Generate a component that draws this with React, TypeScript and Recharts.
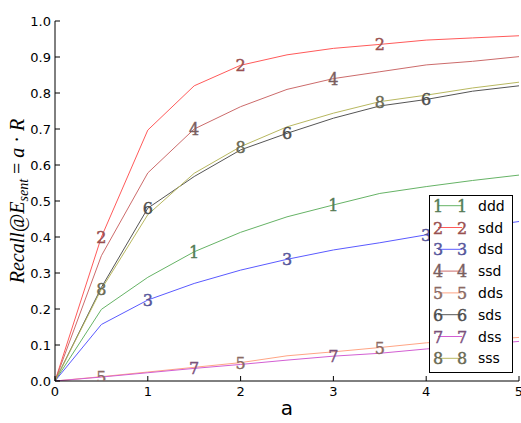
import React from 'react';
import { LineChart, Line, XAxis, YAxis, Label } from 'recharts';

const aValues = [0, 0.5, 1, 1.5, 2, 2.5, 3, 3.5, 4, 4.5, 5];
const ddd = [0, 0.199, 0.288, 0.359, 0.413, 0.456, 0.489, 0.521, 0.54, 0.557, 0.572];
const sdd = [0, 0.4, 0.697, 0.82, 0.877, 0.906, 0.924, 0.935, 0.947, 0.953, 0.959];
const dsd = [0, 0.157, 0.225, 0.271, 0.308, 0.338, 0.364, 0.384, 0.406, 0.425, 0.443];
const ssd = [0, 0.348, 0.578, 0.7, 0.762, 0.81, 0.84, 0.859, 0.878, 0.888, 0.901];
const dds = [0, 0.012, 0.025, 0.038, 0.051, 0.07, 0.081, 0.093, 0.106, 0.113, 0.121];
const sds = [0, 0.26, 0.48, 0.568, 0.642, 0.688, 0.73, 0.764, 0.782, 0.805, 0.82];
const dss = [0, 0.011, 0.023, 0.035, 0.046, 0.058, 0.069, 0.077, 0.089, 0.099, 0.11];
const sss = [0, 0.255, 0.462, 0.577, 0.651, 0.706, 0.744, 0.776, 0.794, 0.814, 0.83];

const seriesNames = ['ddd', 'sdd', 'dsd', 'ssd', 'dds', 'sds', 'dss', 'sss'];
const seriesValues = [ddd, sdd, dsd, ssd, dds, sds, dss, sss];
const seriesDigits = ['1', '2', '3', '4', '5', '6', '7', '8'];
const markerIndices = [[3, 6], [1, 4, 7], [2, 5, 8], [3, 6], [1, 4, 7], [2, 5, 8], [3, 6], [1, 4, 7]];
const lineColors = ['#66b366', '#ff5a5a', '#5a5aff', '#cc6b6b', '#ffa585', '#555555', '#d35fd3', '#b8b860'];
const markerColors = ['#557b55', '#995050', '#55559a', '#7a5e5e', '#8a6a64', '#4c4c4c', '#7a507a', '#6a6a55'];

const xTicks = [0, 1, 2, 3, 4, 5];
const yTicks = [0, 0.1, 0.2, 0.3, 0.4, 0.5, 0.6, 0.7, 0.8, 0.9, 1.0];
const title = 'Athome2';
const xLabel = 'a';

const data = aValues.map((a, i) => {
  const row: Record<string, number> = { a };
  seriesNames.forEach((n, k) => {
    row[n] = seriesValues[k][i];
  });
  return row;
});

const tickFont = "'DejaVu Sans', sans-serif";

const BottomTick = (props: any) => {
  const { x, y, payload } = props;
  return (
    <g>
      <line x1={x} x2={x} y1={y} y2={y - 5} stroke="#000" strokeWidth={1} />
      <text x={x} y={y + 15} textAnchor="middle" fontSize={13} fontFamily={tickFont} fill="#000">
        {String(payload.value)}
      </text>
    </g>
  );
};

const TopTick = (props: any) => {
  const { x, y } = props;
  return <line x1={x} x2={x} y1={y} y2={y + 5} stroke="#000" strokeWidth={1} />;
};

const LeftTick = (props: any) => {
  const { x, y, payload } = props;
  return (
    <g>
      <line x1={x} x2={x + 5} y1={y} y2={y} stroke="#000" strokeWidth={1} />
      <text x={x - 4} y={y + 4.5} textAnchor="end" fontSize={13} fontFamily={tickFont} fill="#000">
        {Number(payload.value).toFixed(1)}
      </text>
    </g>
  );
};

const RightTick = (props: any) => {
  const { x, y } = props;
  return <line x1={x} x2={x - 5} y1={y} y2={y} stroke="#000" strokeWidth={1} />;
};

const makeDot = (k: number) => (props: any) => {
  const { cx, cy, index } = props;
  if (!markerIndices[k].includes(index)) return <g key={`d${k}-${index}`} />;
  return (
    <text
      key={`d${k}-${index}`}
      x={cx}
      y={cy + 6}
      textAnchor="middle"
      fontSize={16}
      fontFamily="'DejaVu Serif', serif"
      fill={markerColors[k]}
      stroke={markerColors[k]}
      strokeWidth={0.4}
    >
      {seriesDigits[k]}
    </text>
  );
};

const YLabelContent = (props: any) => {
  const vb = props.viewBox || { x: 0, y: 21, width: 55, height: 360 };
  const cy = vb.y + vb.height / 2;
  const bx = 24;
  return (
    <text
      transform={`translate(${bx},${cy}) rotate(-90)`}
      textAnchor="middle"
      fontSize={20}
      fontFamily="'Liberation Serif', serif"
      fill="#000"
    >
      <tspan fontStyle="italic">Recall@E</tspan>
      <tspan fontStyle="italic" fontSize={14} dy={4}>sent</tspan>
      <tspan dy={-4}> = </tspan>
      <tspan fontStyle="italic">a</tspan>
      <tspan> · </tspan>
      <tspan fontStyle="italic">R</tspan>
    </text>
  );
};

const TitleContent = (props: any) => {
  const vb = props.viewBox || { x: 55, y: 21, width: 464, height: 0 };
  return (
    <text x={vb.x + vb.width / 2} y={17} textAnchor="middle" fontSize={14.5} fontFamily={tickFont} fill="#000">
      {title}
    </text>
  );
};

const XLabelContent = (props: any) => {
  const vb = props.viewBox || { x: 55, y: 381, width: 464, height: 42 };
  return (
    <text x={vb.x + vb.width / 2} y={415} textAnchor="middle" fontSize={20} fontFamily={tickFont} fill="#000">
      {xLabel}
    </text>
  );
};

const LegendBox = () => {
  const rowStart = 10.7;
  const rowStep = 21.8;
  return (
    <svg
      width={85}
      height={180}
      style={{ position: 'absolute', left: 429, top: 195, overflow: 'visible' }}
    >
      <rect x={0.5} y={0.5} width={83} height={177} fill="#fff" stroke="#000" strokeWidth={1} />
      {seriesNames.map((n, k) => {
        const cy = rowStart + rowStep * k;
        return (
          <g key={n}>
            <line x1={9} x2={33} y1={cy} y2={cy} stroke={lineColors[k]} strokeWidth={1} />
            {[9, 33].map((mx) => (
              <text
                key={mx}
                x={mx}
                y={cy + 6}
                textAnchor="middle"
                fontSize={16}
                fontFamily="'DejaVu Serif', serif"
                fill={markerColors[k]}
                stroke={markerColors[k]}
                strokeWidth={0.4}
              >
                {seriesDigits[k]}
              </text>
            ))}
            <text x={49} y={cy + 5} fontSize={14} fontFamily={tickFont} fill="#000">
              {n}
            </text>
          </g>
        );
      })}
    </svg>
  );
};

export default function App() {
  return (
    <div style={{ position: 'absolute', left: 0, top: 0, width: 521, height: 423, background: '#fff' }}>
      <LineChart width={521} height={423} data={data} margin={{ top: 21, right: 2, bottom: 0, left: 0 }}>
        <XAxis
          xAxisId="b"
          dataKey="a"
          type="number"
          domain={[0, 5]}
          ticks={xTicks}
          orientation="bottom"
          height={42}
          tickSize={0}
          tickMargin={0}
          tick={<BottomTick />}
          axisLine={{ stroke: '#000', strokeWidth: 1 }}
          tickLine={false}
          allowDataOverflow
          interval={0}
        >
          <Label content={<XLabelContent />} />
        </XAxis>
        <XAxis
          xAxisId="t"
          dataKey="a"
          type="number"
          domain={[0, 5]}
          ticks={xTicks}
          orientation="top"
          height={0}
          tickSize={0}
          tickMargin={0}
          tick={<TopTick />}
          axisLine={{ stroke: '#000', strokeWidth: 1 }}
          tickLine={false}
          allowDataOverflow
          interval={0}
        >
          <Label content={<TitleContent />} />
        </XAxis>
        <YAxis
          yAxisId="l"
          type="number"
          domain={[0, 1]}
          ticks={yTicks}
          orientation="left"
          width={55}
          tickSize={0}
          tickMargin={0}
          tick={<LeftTick />}
          axisLine={{ stroke: '#000', strokeWidth: 1 }}
          tickLine={false}
          allowDataOverflow
          interval={0}
        >
          <Label content={<YLabelContent />} />
        </YAxis>
        <YAxis
          yAxisId="r"
          type="number"
          domain={[0, 1]}
          ticks={yTicks}
          orientation="right"
          width={0}
          tickSize={0}
          tickMargin={0}
          tick={<RightTick />}
          axisLine={{ stroke: '#000', strokeWidth: 1 }}
          tickLine={false}
          allowDataOverflow
          interval={0}
        />
        {seriesNames.map((n, k) => (
          <Line
            key={n}
            xAxisId="b"
            yAxisId="l"
            type="linear"
            dataKey={n}
            stroke={lineColors[k]}
            strokeWidth={1}
            dot={makeDot(k)}
            activeDot={false}
            isAnimationActive={false}
          />
        ))}
      </LineChart>
      <LegendBox />
    </div>
  );
}
